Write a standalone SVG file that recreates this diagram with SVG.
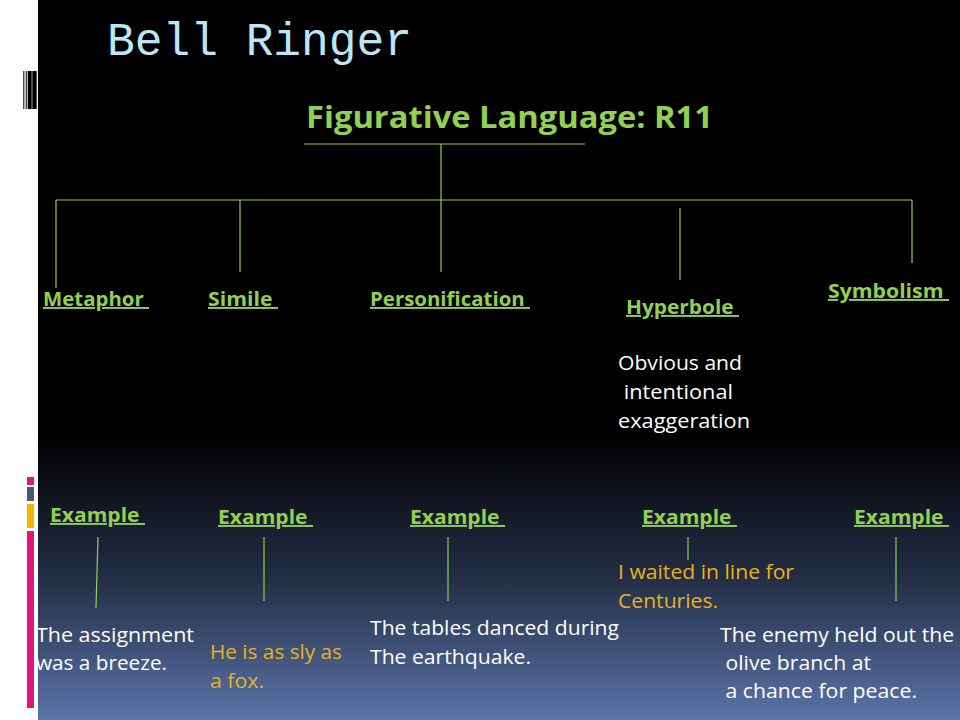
<svg xmlns="http://www.w3.org/2000/svg" width="960" height="720" viewBox="0 0 960 720">
  <defs>
    <linearGradient id="bg" x1="0" y1="0" x2="0" y2="720" gradientUnits="userSpaceOnUse">
      <stop offset="0" stop-color="#000000"/>
      <stop offset="0.6" stop-color="#000000"/>
      <stop offset="0.8" stop-color="#232d44"/>
      <stop offset="1" stop-color="#5a74a8"/>
    </linearGradient>
  </defs>
  <style>
    .head { font-family: "Open Sans", "Liberation Sans", sans-serif; font-weight: bold; fill: #92d050; text-decoration: underline; white-space: pre; }
    .body { font-family: "Open Sans", "Liberation Sans", sans-serif; font-size: 20px; white-space: pre; }
    .white { fill: #ffffff; }
    .orange { fill: #e8b120; }
    .conn line { stroke: #92d050; stroke-width: 1.2; }
  </style>

  <!-- background -->
  <rect x="0" y="0" width="960" height="720" fill="#ffffff"/>
  <rect x="38" y="0" width="922" height="720" fill="url(#bg)"/>

  <!-- barcode decoration -->
  <g id="barcode" fill="#000000">
    <rect x="23.3" y="71" width="1" height="38"/>
    <rect x="25.7" y="71" width="1" height="38"/>
    <rect x="27.7" y="71" width="4" height="38"/>
    <rect x="32.3" y="71" width="4.4" height="38"/>
  </g>

  <!-- side colour bars -->
  <g id="sidebars">
    <rect x="27" y="477" width="7" height="8" fill="#e2157d"/>
    <rect x="27" y="487" width="7" height="14" fill="#4b5968"/>
    <rect x="27" y="504" width="7" height="24" fill="#f5b400"/>
    <rect x="27" y="531" width="7" height="177" fill="#e2157d"/>
  </g>

  <!-- title -->
  <text id="title" x="107" y="55" font-family="'Liberation Mono', 'DejaVu Sans Mono', monospace" font-size="47" fill="#bde5f8" textLength="305" lengthAdjust="spacingAndGlyphs">Bell Ringer</text>

  <!-- connectors -->
  <g id="connectors" class="conn">
    <line x1="304" y1="144" x2="585" y2="144"/>
    <line x1="441" y1="144" x2="441" y2="272"/>
    <line x1="56" y1="200" x2="912" y2="200"/>
    <line x1="56" y1="200" x2="56" y2="288"/>
    <line x1="240" y1="200" x2="240" y2="272"/>
    <line x1="680" y1="208" x2="680" y2="280"/>
    <line x1="912" y1="200" x2="912" y2="263"/>
    <line x1="98" y1="537" x2="96" y2="608"/>
    <line x1="264" y1="537" x2="264" y2="601"/>
    <line x1="448" y1="537" x2="448" y2="601"/>
    <line x1="688" y1="537" x2="688" y2="560"/>
    <line x1="896" y1="537" x2="896" y2="601"/>
  </g>

  <!-- root node -->
  <g id="root">
    <text x="306" y="128" class="head" style="text-decoration:none" font-size="31" textLength="407" lengthAdjust="spacingAndGlyphs">Figurative Language: R11</text>
  </g>

  <!-- category nodes -->
  <g id="metaphor">
    <text x="43" y="306" class="head" font-size="19" textLength="106" lengthAdjust="spacingAndGlyphs">Metaphor </text>
  </g>
  <g id="simile">
    <text x="208" y="306" class="head" font-size="19" textLength="70" lengthAdjust="spacingAndGlyphs">Simile </text>
  </g>
  <g id="personification">
    <text x="370" y="306" class="head" font-size="19" textLength="160" lengthAdjust="spacingAndGlyphs">Personification </text>
  </g>
  <g id="hyperbole">
    <text x="626" y="314" class="head" font-size="19" textLength="113" lengthAdjust="spacingAndGlyphs">Hyperbole </text>
    <text x="618" y="370" class="body white" textLength="124" lengthAdjust="spacingAndGlyphs">Obvious and</text>
    <text x="618" y="399" class="body white" textLength="115" lengthAdjust="spacingAndGlyphs"> intentional</text>
    <text x="618" y="428" class="body white" textLength="132" lengthAdjust="spacingAndGlyphs">exaggeration</text>
  </g>
  <g id="symbolism">
    <text x="828" y="298" class="head" font-size="19" textLength="121" lengthAdjust="spacingAndGlyphs">Symbolism </text>
  </g>

  <!-- example nodes -->
  <g id="example-metaphor">
    <text x="50" y="522" class="head" font-size="19" textLength="95" lengthAdjust="spacingAndGlyphs">Example </text>
    <text x="36" y="642" class="body white" textLength="158" lengthAdjust="spacingAndGlyphs">The assignment</text>
    <text x="36" y="670" class="body white" textLength="131" lengthAdjust="spacingAndGlyphs">was a breeze.</text>
  </g>
  <g id="example-simile">
    <text x="218" y="524" class="head" font-size="19" textLength="95" lengthAdjust="spacingAndGlyphs">Example </text>
    <text x="210" y="659" class="body orange" textLength="132" lengthAdjust="spacingAndGlyphs">He is as sly as</text>
    <text x="210" y="688" class="body orange" textLength="54" lengthAdjust="spacingAndGlyphs">a fox.</text>
  </g>
  <g id="example-personification">
    <text x="410" y="524" class="head" font-size="19" textLength="95" lengthAdjust="spacingAndGlyphs">Example </text>
    <text x="370" y="635" class="body white" textLength="249" lengthAdjust="spacingAndGlyphs">The tables danced during</text>
    <text x="370" y="664" class="body white" textLength="161" lengthAdjust="spacingAndGlyphs">The earthquake.</text>
  </g>
  <g id="example-hyperbole">
    <text x="642" y="524" class="head" font-size="19" textLength="95" lengthAdjust="spacingAndGlyphs">Example </text>
    <text x="618" y="579" class="body orange" textLength="176" lengthAdjust="spacingAndGlyphs">I waited in line for</text>
    <text x="618" y="608" class="body orange" textLength="100" lengthAdjust="spacingAndGlyphs">Centuries.</text>
  </g>
  <g id="example-symbolism">
    <text x="854" y="524" class="head" font-size="19" textLength="95" lengthAdjust="spacingAndGlyphs">Example </text>
    <text x="720" y="642" class="body white" textLength="234" lengthAdjust="spacingAndGlyphs">The enemy held out the</text>
    <text x="720" y="670" class="body white" textLength="151" lengthAdjust="spacingAndGlyphs"> olive branch at</text>
    <text x="720" y="698" class="body white" textLength="197" lengthAdjust="spacingAndGlyphs"> a chance for peace.</text>
  </g>
</svg>
